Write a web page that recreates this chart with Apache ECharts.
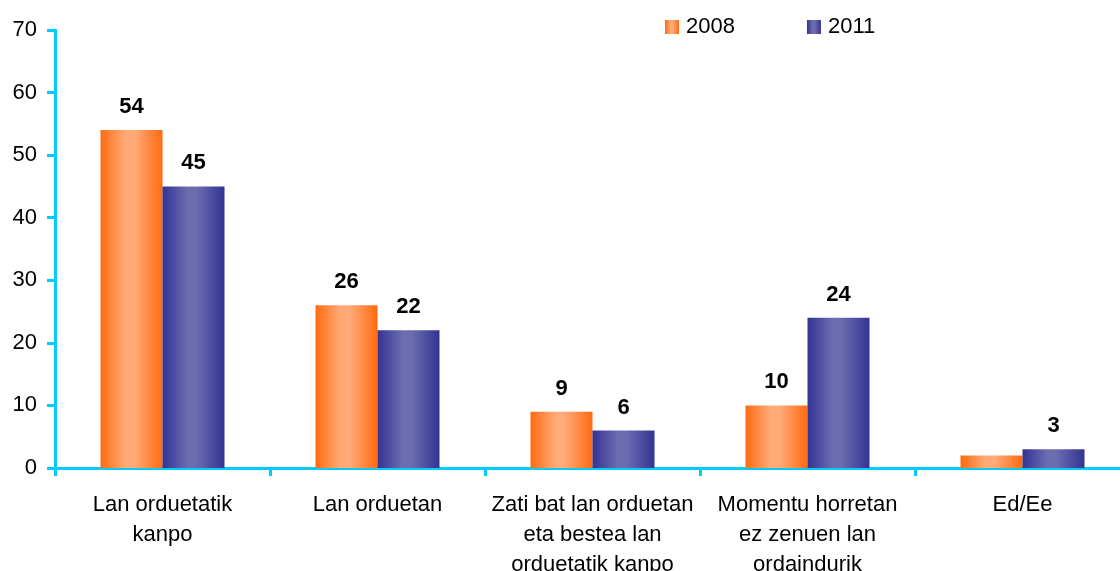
<!DOCTYPE html>
<html>
<head>
<meta charset="utf-8">
<script src="https://cdn.jsdelivr.net/npm/echarts@6/dist/echarts.min.js"></script>
<style>
  html, body { margin: 0; padding: 0; background: #fff; }
  #chart { width: 1120px; height: 571px; }
</style>
</head>
<body>
<div id="chart"></div>
<script>
// categories and values
const categories = [
  "Lan orduetatik\nkanpo",
  "Lan orduetan",
  "Zati bat lan orduetan\neta bestea lan\norduetatik kanpo",
  "Momentu horretan\nez zenuen lan\nordaindurik",
  "Ed/Ee"
];
const values2008 = [54, 26, 9, 10, 2];
const values2011 = [45, 22, 6, 24, 3];
// the small 2008 Ed/Ee bar has no label in the original
const hiddenLabels2008 = [4];

const chart = echarts.init(document.getElementById("chart"));

// horizontal "cylinder" gradient: dark edges, light middle
const barGradient = (edge, mid) =>
  new echarts.graphic.LinearGradient(0, 0, 1, 0, [
    { offset: 0, color: edge },
    { offset: 0.4, color: mid },
    { offset: 0.55, color: mid },
    { offset: 1, color: edge }
  ]);

const orange = barGradient("#FF6A10", "#FFAA77");
const blue = barGradient("#333394", "#6C6CB0");

const labelStyle = {
  show: true,
  position: "top",
  distance: 12,
  color: "#000",
  fontSize: 22,
  fontWeight: "bold",
  fontFamily: "Liberation Sans"
};

const option = {
  animation: false,
  textStyle: { fontFamily: "Liberation Sans" },
  // plot runs a little past the right edge, as in the original
  grid: {
    left: 55,
    right: -10,
    top: 30,
    bottom: 103,
    containLabel: false,
    outerBoundsMode: "none"
  },
  legend: {
    top: 11,
    left: 660,
    itemWidth: 14,
    itemHeight: 14,
    itemGap: 72,
    icon: "rect",
    textStyle: { fontSize: 22, color: "#000", fontFamily: "Liberation Sans", padding: [0, 0, 0, 2] },
    data: ["2008", "2011"]
  },
  xAxis: {
    type: "category",
    data: categories,
    axisLine: { lineStyle: { color: "#00CCFF", width: 3 } },
    axisTick: { show: true, length: 8, lineStyle: { color: "#00CCFF", width: 3 } },
    axisLabel: {
      color: "#000",
      fontSize: 22,
      lineHeight: 30,
      margin: 22,
      interval: 0,
      fontFamily: "Liberation Sans"
    }
  },
  yAxis: {
    type: "value",
    min: 0,
    max: 70,
    interval: 10,
    splitLine: { show: false },
    axisLine: { show: true, lineStyle: { color: "#00CCFF", width: 3 } },
    axisTick: { show: true, length: 8, lineStyle: { color: "#00CCFF", width: 3 } },
    axisLabel: { color: "#000", fontSize: 22, margin: 18, fontFamily: "Liberation Sans" }
  },
  series: [
    {
      name: "2008",
      type: "bar",
      barWidth: 62,
      barGap: "0%",
      itemStyle: { color: orange },
      label: labelStyle,
      data: values2008.map((v, i) =>
        hiddenLabels2008.includes(i) ? { value: v, label: { show: false } } : v
      )
    },
    {
      name: "2011",
      type: "bar",
      barWidth: 62,
      barGap: "0%",
      itemStyle: { color: blue },
      label: labelStyle,
      data: values2011
    }
  ]
};

chart.setOption(option);
</script>
</body>
</html>
